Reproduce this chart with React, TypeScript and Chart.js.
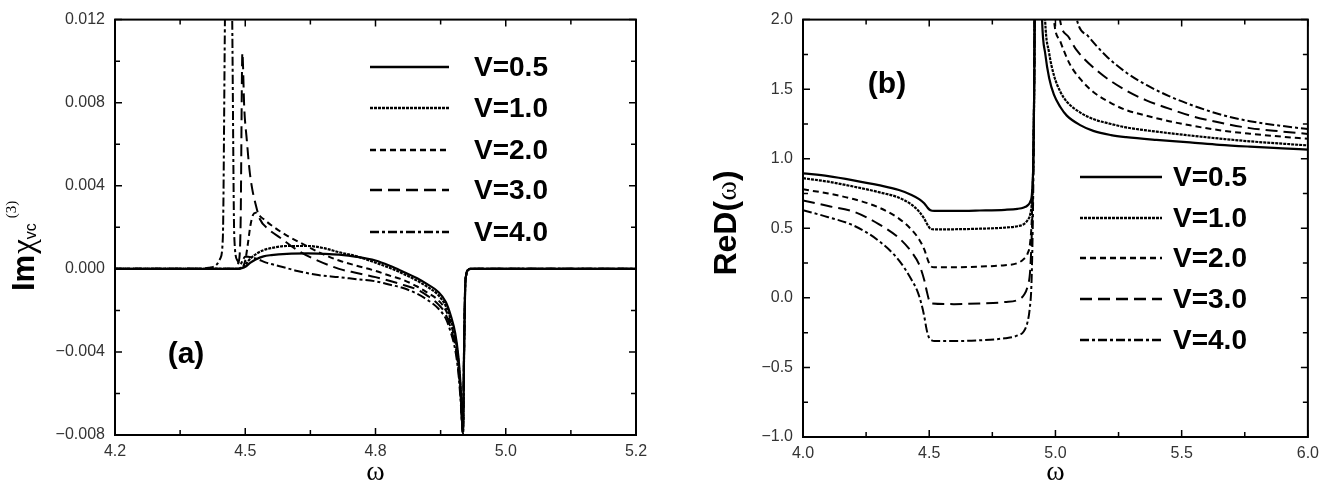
import { useEffect, useRef } from "react";
import { Chart, registerables } from "chart.js";

Chart.register(...registerables);

type Pt = [number, number];

// ---------- Panel (a): Im chi_vc^(3) versus omega ----------
const omegaMajorTicksA = [4.25, 4.5, 4.75, 5.0, 5.25];
const omegaTickLabelsA = ["4.2", "4.5", "4.8", "5.0", "5.2"];
const omegaMinorTicksA = [4.375, 4.625, 4.875, 5.125];
const chiMajorTicksA = [-0.008, -0.004, 0, 0.004, 0.008, 0.012];
const chiTickLabelsA = ["\u22120.008", "\u22120.004", "0.000", "0.004", "0.008", "0.012"];
const chiMinorTicksA = [-0.006, -0.002, 0.002, 0.006, 0.01];

const imChiV05: Pt[] = [
  [4.25, 0], [4.485, 0], [4.495, 0.00004], [4.5, 0.0001], [4.51, 0.0003], [4.52, 0.00045],
  [4.535, 0.0006], [4.55, 0.00066], [4.58, 0.00072], [4.62, 0.00074], [4.65, 0.00072],
  [4.68, 0.00068], [4.714, 0.00058], [4.75, 0.0004], [4.78, 0.00012], [4.8, -0.0001],
  [4.83, -0.00045], [4.85, -0.00075], [4.87, -0.0011], [4.885, -0.0016], [4.895, -0.0023],
  [4.903, -0.0031], [4.909, -0.0042], [4.913, -0.0055], [4.918, -0.0079], [4.92, -0.004],
  [4.922, -0.001], [4.924, -0.0003], [4.928, -0.00005], [4.933, 0], [5.25, 0],
];
const imChiV10: Pt[] = [
  [4.25, 0], [4.485, 0], [4.495, 0.0001], [4.5, 0.0002], [4.51, 0.0005], [4.52, 0.0007],
  [4.535, 0.0009], [4.55, 0.001], [4.58, 0.0011], [4.62, 0.0011], [4.65, 0.001],
  [4.68, 0.0008], [4.714, 0.0006], [4.75, 0.0003], [4.78, 0.00002], [4.8, -0.0002],
  [4.83, -0.00057], [4.85, -0.00088], [4.87, -0.00125], [4.885, -0.0018], [4.895, -0.0025],
  [4.903, -0.0033], [4.909, -0.0044], [4.913, -0.0057], [4.918, -0.0079], [4.92, -0.004],
  [4.922, -0.001], [4.924, -0.0003], [4.928, -0.00005], [4.933, 0], [5.25, 0],
];
const imChiV20: Pt[] = [
  [4.25, 0], [4.485, 0], [4.495, 0.0001], [4.5, 0.0004], [4.505, 0.0012], [4.51, 0.0021],
  [4.515, 0.0026], [4.52, 0.0027], [4.53, 0.0025], [4.55, 0.0021], [4.58, 0.0016],
  [4.61, 0.0012], [4.65, 0.0007], [4.68, 0.0004], [4.714, 0.00015], [4.75, -0.0001],
  [4.78, -0.00035], [4.8, -0.0005], [4.83, -0.00085], [4.85, -0.00115], [4.87, -0.0015],
  [4.885, -0.002], [4.895, -0.0027], [4.903, -0.0035], [4.909, -0.0046], [4.913, -0.0059],
  [4.918, -0.0079], [4.92, -0.004], [4.922, -0.001], [4.924, -0.0003], [4.928, -0.00005],
  [4.933, 0], [5.25, 0],
];
const imChiV30: Pt[] = [
  [4.25, 0], [4.48, 0], [4.487, 0.0003], [4.491, 0.002], [4.4945, 0.0104], [4.498, 0.0078],
  [4.503, 0.0062], [4.508, 0.0048], [4.513, 0.0039], [4.52, 0.0031], [4.528, 0.0024],
  [4.545, 0.0019], [4.567, 0.0015], [4.6, 0.0009], [4.63, 0.0005], [4.68, 0.0],
  [4.714, -0.0002], [4.75, -0.0004], [4.78, -0.0006], [4.8, -0.00075], [4.83, -0.001],
  [4.85, -0.0013], [4.87, -0.0017], [4.885, -0.0022], [4.895, -0.0029], [4.903, -0.0037],
  [4.909, -0.0048], [4.913, -0.006], [4.918, -0.0079], [4.92, -0.004], [4.922, -0.001],
  [4.924, -0.0003], [4.928, -0.00005], [4.933, 0], [5.25, 0],
];
const imChiV40: Pt[] = [
  [4.25, 0], [4.4, 0], [4.43, 0.00005], [4.445, 0.0002], [4.452, 0.0005], [4.457, 0.0015],
  [4.461, 0.012], [4.468, 0.03], [4.475, 0.012], [4.479, 0.0015], [4.485, 0.0004],
  [4.49, 0.0002], [4.495, 0.0004], [4.5, 0.0006], [4.52, 0.0005], [4.54, 0.0003],
  [4.57, 0.0001], [4.6, -0.0001], [4.64, -0.0003], [4.68, -0.0004], [4.714, -0.0005],
  [4.75, -0.0006], [4.78, -0.00078], [4.8, -0.0009], [4.83, -0.0012], [4.85, -0.0015],
  [4.87, -0.0019], [4.885, -0.0024], [4.895, -0.0031], [4.903, -0.0039], [4.909, -0.005],
  [4.913, -0.0062], [4.918, -0.0079], [4.92, -0.004], [4.922, -0.001], [4.924, -0.0003],
  [4.928, -0.00005], [4.933, 0], [5.25, 0],
];

// ---------- Panel (b): Re D(omega) versus omega ----------
const omegaMajorTicksB = [4.0, 4.5, 5.0, 5.5, 6.0];
const omegaTickLabelsB = ["4.0", "4.5", "5.0", "5.5", "6.0"];
const omegaMinorTicksB = [4.25, 4.75, 5.25, 5.75];
const reDMajorTicks = [-1, -0.5, 0, 0.5, 1, 1.5, 2];
const reDTickLabels = ["\u22121.0", "\u22120.5", "0.0", "0.5", "1.0", "1.5", "2.0"];
const reDMinorTicks = [-0.75, -0.25, 0.25, 0.75, 1.25, 1.75];

const reDV05: Pt[] = [
  [4.0, 0.895], [4.1, 0.875], [4.2, 0.845], [4.3, 0.81], [4.38, 0.775], [4.43, 0.74],
  [4.46, 0.71], [4.48, 0.68], [4.495, 0.645], [4.505, 0.63], [4.52, 0.625], [4.6, 0.625],
  [4.7, 0.628], [4.8, 0.633], [4.85, 0.64], [4.875, 0.65], [4.89, 0.665], [4.9, 0.69],
  [4.907, 0.75], [4.912, 0.95], [4.916, 1.5], [4.919, 2.4], [4.93, 3.4], [4.947, 2.0],
  [4.96, 1.75], [4.975, 1.58], [4.994, 1.46], [5.02, 1.37], [5.045, 1.31], [5.1, 1.24],
  [5.15, 1.2], [5.22, 1.17], [5.28, 1.155], [5.4, 1.135], [5.533, 1.117], [5.65, 1.1],
  [5.77, 1.087], [5.9, 1.075], [6.0, 1.066],
];
const reDV10: Pt[] = [
  [4.0, 0.86], [4.1, 0.835], [4.2, 0.8], [4.3, 0.76], [4.38, 0.72], [4.43, 0.67],
  [4.46, 0.62], [4.48, 0.57], [4.495, 0.52], [4.505, 0.497], [4.52, 0.492], [4.6, 0.493],
  [4.7, 0.497], [4.8, 0.505], [4.85, 0.515], [4.875, 0.53], [4.89, 0.56], [4.9, 0.6],
  [4.907, 0.7], [4.912, 0.95], [4.916, 1.55], [4.919, 2.4], [4.935, 3.4], [4.959, 2.0],
  [4.975, 1.76], [4.994, 1.6], [5.02, 1.48], [5.045, 1.41], [5.1, 1.33], [5.15, 1.285],
  [5.22, 1.25], [5.28, 1.225], [5.4, 1.195], [5.533, 1.167], [5.65, 1.145], [5.77, 1.125],
  [5.9, 1.108], [6.0, 1.096],
];
const reDV20: Pt[] = [
  [4.0, 0.78], [4.1, 0.75], [4.2, 0.71], [4.3, 0.65], [4.38, 0.57], [4.43, 0.49],
  [4.46, 0.42], [4.48, 0.35], [4.495, 0.27], [4.505, 0.23], [4.52, 0.22], [4.6, 0.22],
  [4.7, 0.225], [4.8, 0.235], [4.85, 0.25], [4.875, 0.28], [4.89, 0.32], [4.9, 0.4],
  [4.907, 0.6], [4.912, 1.0], [4.916, 1.6], [4.919, 2.4], [4.95, 3.4], [4.994, 2.0],
  [5.02, 1.84], [5.057, 1.68], [5.1, 1.57], [5.15, 1.48], [5.22, 1.4], [5.28, 1.35],
  [5.36, 1.31], [5.45, 1.27], [5.533, 1.24], [5.65, 1.205], [5.77, 1.18], [5.9, 1.158],
  [6.0, 1.143],
];
const reDV30: Pt[] = [
  [4.0, 0.7], [4.1, 0.66], [4.2, 0.62], [4.3, 0.53], [4.38, 0.43], [4.43, 0.33],
  [4.46, 0.24], [4.48, 0.13], [4.49, 0.05], [4.5, -0.02], [4.51, -0.04], [4.6, -0.045],
  [4.7, -0.04], [4.8, -0.03], [4.85, -0.015], [4.875, 0.02], [4.89, 0.085], [4.9, 0.2],
  [4.907, 0.5], [4.912, 0.9], [4.916, 1.6], [4.919, 2.4], [4.96, 3.4], [5.018, 2.0],
  [5.05, 1.88], [5.084, 1.78], [5.174, 1.62], [5.28, 1.49], [5.36, 1.42], [5.45, 1.36],
  [5.533, 1.31], [5.65, 1.26], [5.77, 1.22], [5.9, 1.195], [6.0, 1.178],
];
const reDV40: Pt[] = [
  [4.0, 0.63], [4.1, 0.58], [4.2, 0.52], [4.3, 0.41], [4.38, 0.27], [4.43, 0.13],
  [4.455, 0.04], [4.47, -0.05], [4.48, -0.13], [4.49, -0.23], [4.5, -0.29], [4.51, -0.305],
  [4.52, -0.31], [4.6, -0.31], [4.7, -0.305], [4.8, -0.29], [4.85, -0.27], [4.875, -0.24],
  [4.89, -0.17], [4.898, -0.08], [4.905, 0.1], [4.91, 0.5], [4.914, 1.1], [4.917, 1.8],
  [4.92, 2.6], [4.98, 3.4], [5.085, 2.0], [5.13, 1.88], [5.2, 1.74], [5.28, 1.62],
  [5.36, 1.53], [5.45, 1.45], [5.533, 1.39], [5.65, 1.32], [5.77, 1.27], [5.9, 1.235],
  [6.0, 1.213],
];

const seriesLabels = ["V=0.5", "V=1.0", "V=2.0", "V=3.0", "V=4.0"];

// ---------- styling ----------
const SANS = '"Liberation Sans", Arial, Helvetica, sans-serif';
const SERIF = '"Liberation Serif", "Times New Roman", serif';
const lineStyles = [
  { dash: [] as number[], width: 2.2 },
  { dash: [3, 1], width: 2.2 },
  { dash: [6, 4], width: 2 },
  { dash: [12, 6], width: 2 },
  { dash: [9, 3, 3, 3], width: 2 },
];
const HEIGHT = 495;

interface Area { left: number; right: number; top: number; bottom: number }
interface PanelSpec {
  width: number;
  area: Area;
  series: Pt[][];
  xMin: number; xMax: number; xMajor: number[]; xLabels: string[]; xMinor: number[];
  yMin: number; yMax: number; yMajor: number[]; yLabels: string[]; yMinor: number[];
  legend: { x0: number; x1: number; tx: number; rows: number[] };
  decorate: (ctx: CanvasRenderingContext2D, chart: Chart) => void;
}

function labelFor(majors: number[], labels: string[]) {
  return (value: number | string) => {
    const v = Number(value);
    const i = majors.findIndex((m) => Math.abs(m - v) < 1e-9);
    return i >= 0 ? labels[i] : "";
  };
}

function framePlugin(spec: PanelSpec) {
  return {
    id: "frameAndLegend",
    afterDatasetsDraw(chart: Chart) {
      const ctx = chart.ctx;
      const a = chart.chartArea;
      const xs: any = chart.scales.x;
      const ys: any = chart.scales.y;
      ctx.save();
      ctx.strokeStyle = "#000";
      ctx.lineWidth = 1.5;
      ctx.setLineDash([]);
      ctx.beginPath();
      xs.ticks.forEach((t: any) => {
        const px = xs.getPixelForValue(t.value);
        const len = t.label ? 7 : 5;
        ctx.moveTo(px, a.bottom);
        ctx.lineTo(px, a.bottom - len);
        ctx.moveTo(px, a.top);
        ctx.lineTo(px, a.top + len);
      });
      ys.ticks.forEach((t: any) => {
        const py = ys.getPixelForValue(t.value);
        const len = t.label ? 7 : 5;
        ctx.moveTo(a.left, py);
        ctx.lineTo(a.left + len, py);
        ctx.moveTo(a.right, py);
        ctx.lineTo(a.right - len, py);
      });
      ctx.stroke();
      ctx.lineWidth = 2;
      ctx.strokeRect(a.left, a.top, a.right - a.left, a.bottom - a.top);

      // legend, built from the datasets
      const lg = spec.legend;
      chart.data.datasets.forEach((ds: any, i: number) => {
        const y = lg.rows[i];
        ctx.save();
        ctx.strokeStyle = "#000";
        ctx.lineWidth = 2.5;
        ctx.setLineDash(ds.borderDash || []);
        ctx.beginPath();
        ctx.moveTo(lg.x0, y);
        ctx.lineTo(lg.x1, y);
        ctx.stroke();
        ctx.restore();
        ctx.fillStyle = "#000";
        ctx.font = `bold 28px ${SANS}`;
        ctx.textAlign = "left";
        ctx.textBaseline = "middle";
        ctx.fillText(ds.label, lg.tx, y + 1);
      });

      spec.decorate(ctx, chart);
      ctx.restore();
    },
  };
}

function buildConfig(spec: PanelSpec): any {
  const datasets = spec.series.map((pts, i) => ({
    label: seriesLabels[i],
    data: pts.map(([x, y]) => ({ x, y })),
    borderColor: "#000",
    borderWidth: lineStyles[i].width,
    borderDash: lineStyles[i].dash,
    pointRadius: 0,
    fill: false,
    cubicInterpolationMode: "monotone",
  }));
  const tickFont = { family: SANS, size: 16 };
  return {
    type: "line",
    data: { datasets },
    options: {
      responsive: false,
      animation: false,
      devicePixelRatio: 1,
      events: [],
      layout: { padding: { left: 0, top: spec.area.top, right: spec.width - spec.area.right, bottom: 0 } },
      plugins: { legend: { display: false }, tooltip: { enabled: false } },
      scales: {
        x: {
          type: "linear",
          min: spec.xMin,
          max: spec.xMax,
          afterBuildTicks: (s: any) => {
            s.ticks = [...spec.xMajor, ...spec.xMinor].sort((p, q) => p - q).map((v) => ({ value: v }));
          },
          afterFit: (s: any) => {
            s.height = HEIGHT - spec.area.bottom;
          },
          ticks: {
            autoSkip: false,
            maxRotation: 0,
            padding: 7,
            color: "#333",
            font: tickFont,
            callback: labelFor(spec.xMajor, spec.xLabels),
          },
          grid: { display: false, drawTicks: false },
          border: { display: false },
        },
        y: {
          type: "linear",
          min: spec.yMin,
          max: spec.yMax,
          afterBuildTicks: (s: any) => {
            s.ticks = [...spec.yMajor, ...spec.yMinor].sort((p, q) => p - q).map((v) => ({ value: v }));
          },
          afterFit: (s: any) => {
            s.width = spec.area.left;
          },
          ticks: {
            autoSkip: false,
            padding: 10,
            color: "#333",
            font: tickFont,
            callback: labelFor(spec.yMajor, spec.yLabels),
          },
          grid: { display: false, drawTicks: false },
          border: { display: false },
        },
      },
    },
    plugins: [framePlugin(spec)],
  };
}

function drawOmega(ctx: CanvasRenderingContext2D, chart: Chart) {
  const a = chart.chartArea;
  ctx.fillStyle = "#000";
  ctx.font = `28px ${SERIF}`;
  ctx.textAlign = "center";
  ctx.textBaseline = "alphabetic";
  ctx.fillText("\u03c9", (a.left + a.right) / 2, 480);
}

const panelA: PanelSpec = {
  width: 660,
  area: { left: 115, right: 636, top: 10, bottom: 435 },
  series: [imChiV05, imChiV10, imChiV20, imChiV30, imChiV40],
  xMin: 4.25, xMax: 5.25, xMajor: omegaMajorTicksA, xLabels: omegaTickLabelsA, xMinor: omegaMinorTicksA,
  yMin: -0.008, yMax: 0.012, yMajor: chiMajorTicksA, yLabels: chiTickLabelsA, yMinor: chiMinorTicksA,
  legend: { x0: 370, x1: 449, tx: 474, rows: [67, 108, 150, 190, 232] },
  decorate: (ctx, chart) => {
    drawOmega(ctx, chart);
    ctx.font = `bold 30px ${SANS}`;
    ctx.textAlign = "center";
    ctx.textBaseline = "middle";
    ctx.fillText("(a)", 186, 355);
    // rotated axis title: Im chi_vc^(3)
    ctx.save();
    ctx.translate(34, 291);
    ctx.rotate(-Math.PI / 2);
    ctx.textAlign = "left";
    ctx.textBaseline = "alphabetic";
    ctx.font = `bold 31px ${SANS}`;
    ctx.fillText("Im", 0, 0);
    let x = ctx.measureText("Im").width + 1;
    ctx.font = `33px ${SERIF}`;
    ctx.fillText("\u03c7", x, 0);
    x += ctx.measureText("\u03c7").width;
    ctx.font = `16px ${SANS}`;
    ctx.fillText("vc", x, 2);
    x += ctx.measureText("vc").width + 5;
    ctx.font = `15px ${SERIF}`;
    ctx.fillText("(3)", x, -18);
    ctx.restore();
  },
};

const panelB: PanelSpec = {
  width: 666,
  area: { left: 143, right: 653, top: 10, bottom: 437 },
  series: [reDV05, reDV10, reDV20, reDV30, reDV40],
  xMin: 4.0, xMax: 6.0, xMajor: omegaMajorTicksB, xLabels: omegaTickLabelsB, xMinor: omegaMinorTicksB,
  yMin: -1, yMax: 2, yMajor: reDMajorTicks, yLabels: reDTickLabels, yMinor: reDMinorTicks,
  legend: { x0: 420, x1: 502, tx: 513, rows: [177, 218, 258, 299, 340] },
  decorate: (ctx, chart) => {
    drawOmega(ctx, chart);
    ctx.font = `bold 30px ${SANS}`;
    ctx.textAlign = "center";
    ctx.textBaseline = "middle";
    ctx.fillText("(b)", 227, 85);
    // rotated axis title: ReD(omega)
    ctx.save();
    ctx.translate(76, 223);
    ctx.rotate(-Math.PI / 2);
    ctx.textBaseline = "alphabetic";
    ctx.textAlign = "left";
    const bold = `bold 32px ${SANS}`;
    const serif = `30px ${SERIF}`;
    ctx.font = bold;
    const w1 = ctx.measureText("ReD(").width;
    const w3 = ctx.measureText(")").width;
    ctx.font = serif;
    const w2 = ctx.measureText("\u03c9").width;
    let x = -(w1 + w2 + w3) / 2;
    ctx.font = bold;
    ctx.fillText("ReD(", x, 0);
    x += w1;
    ctx.font = serif;
    ctx.fillText("\u03c9", x, 0);
    x += w2;
    ctx.font = bold;
    ctx.fillText(")", x, 0);
    ctx.restore();
  },
};

function Panel({ spec, left }: { spec: PanelSpec; left: number }) {
  const ref = useRef<HTMLCanvasElement>(null);
  useEffect(() => {
    const chart = new Chart(ref.current as HTMLCanvasElement, buildConfig(spec));
    return () => chart.destroy();
  }, [spec]);
  return (
    <canvas
      ref={ref}
      width={spec.width}
      height={HEIGHT}
      style={{ position: "absolute", left, top: 0, width: spec.width, height: HEIGHT, display: "block" }}
    />
  );
}

export default function App() {
  return (
    <div style={{ position: "absolute", left: 0, top: 0, width: 1326, height: HEIGHT, background: "#fff" }}>
      <Panel spec={panelA} left={0} />
      <Panel spec={panelB} left={660} />
    </div>
  );
}
